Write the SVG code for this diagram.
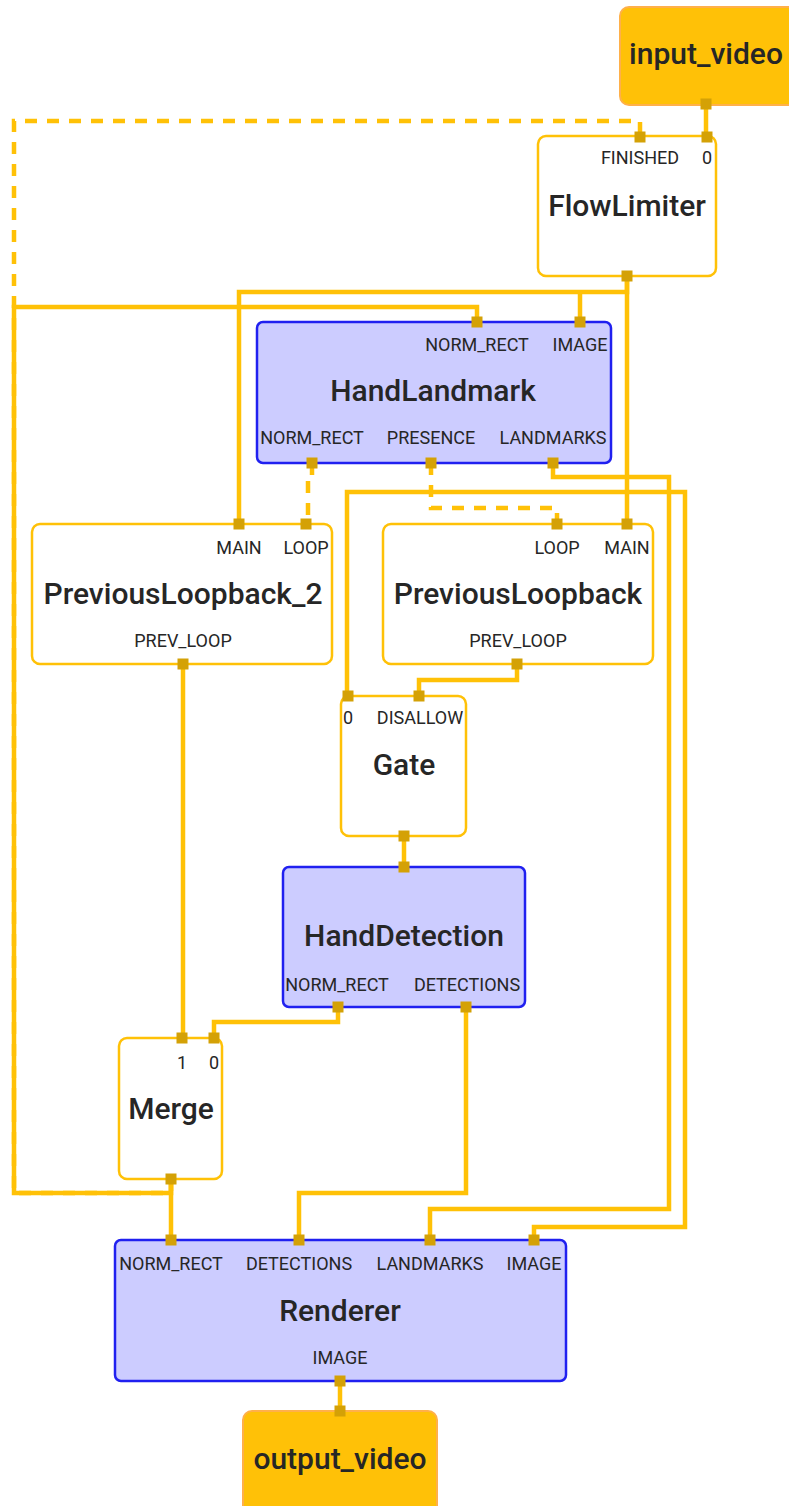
<svg xmlns="http://www.w3.org/2000/svg" width="789" height="1506" viewBox="0 0 789 1506">
<style>
.io rect{fill:#FFC107;stroke:#FFB04A;stroke-width:2}
.calc rect{fill:#FFFFFF;stroke:#FFC107;stroke-width:2.5}
.sub rect{fill:#CCCCFF;stroke:#2020F0;stroke-width:2.5}
.title{font-family:Roboto,"Liberation Sans",sans-serif;font-weight:500;font-size:30px;fill:#262626;text-anchor:middle;dominant-baseline:central}
.port{font-family:Roboto,"Liberation Sans",sans-serif;font-size:18px;fill:#262626;text-anchor:middle;dominant-baseline:central}
.edge{fill:none;stroke:#FFC107;stroke-width:4.5}
.dash{fill:none;stroke:#FFC107;stroke-width:4.5;stroke-dasharray:12,10}
.p{fill:#D4A106}
</style>
<defs>
<rect id="pt" x="-5.5" y="-5.5" width="11" height="11" class="p"/>
</defs>
<g id="connectors">
<path class="dash" d="M171,1179 V1193 H14 V121 H640 V136"/>
<path class="edge" d="M171,1179 V1193 H14 V307 H477 V322"/>
<path class="edge" d="M171,1179 V1240"/>
<path class="edge" d="M706,104 V136"/>
<path class="edge" d="M627,276 V292 H239 V523"/>
<path class="edge" d="M580,292 V322"/>
<path class="edge" d="M627,276 V523"/>
<path class="edge" d="M627,492 H685 V1227 H534 V1240"/>
<path class="edge" d="M627,492 H347 V696"/>
<path class="edge" d="M553,463 V477 H669 V1209 H430 V1240"/>
<path class="dash" d="M431,463 V508 H557 V523"/>
<path class="dash" d="M312,463 V478 H308 V523"/>
<path class="edge" d="M183,664 V1038"/>
<path class="edge" d="M517,664 V680 H419 V696"/>
<path class="edge" d="M404,836 V867"/>
<path class="edge" d="M338,1007 V1022 H214 V1038"/>
<path class="edge" d="M466,1007 V1193 H299 V1240"/>
<path class="edge" d="M340,1381 V1411"/>
</g>
<g id="input_video" class="io">
<rect x="620" y="7" width="180" height="98" rx="9"/>
<text class="title" x="706" y="53">input_video</text>
<use href="#pt" x="706" y="104"/>
</g>
<g id="FlowLimiter" class="calc">
<rect x="538" y="136" width="178" height="140" rx="8"/>
<text class="port" x="640" y="157">FINISHED</text>
<text class="port" x="707" y="157">0</text>
<text class="title" x="627" y="205">FlowLimiter</text>
<use href="#pt" x="640" y="137"/>
<use href="#pt" x="707" y="137"/>
<use href="#pt" x="627" y="276"/>
</g>
<g id="HandLandmark" class="sub">
<rect x="257" y="322" width="354" height="141" rx="6"/>
<text class="port" x="477" y="344">NORM_RECT</text>
<text class="port" x="580" y="344">IMAGE</text>
<text class="title" x="433" y="390">HandLandmark</text>
<text class="port" x="312" y="437">NORM_RECT</text>
<text class="port" x="431" y="437">PRESENCE</text>
<text class="port" x="553" y="437">LANDMARKS</text>
<use href="#pt" x="477" y="322"/>
<use href="#pt" x="580" y="322"/>
<use href="#pt" x="312" y="463"/>
<use href="#pt" x="431" y="463"/>
<use href="#pt" x="553" y="463"/>
</g>
<g id="PreviousLoopback_2" class="calc">
<rect x="32" y="524" width="300" height="140" rx="8"/>
<text class="port" x="239" y="547">MAIN</text>
<text class="port" x="306" y="547">LOOP</text>
<text class="title" x="183" y="593">PreviousLoopback_2</text>
<text class="port" x="183" y="640">PREV_LOOP</text>
<use href="#pt" x="239" y="524"/>
<use href="#pt" x="306" y="524"/>
<use href="#pt" x="183" y="664"/>
</g>
<g id="PreviousLoopback" class="calc">
<rect x="383" y="524" width="270" height="140" rx="8"/>
<text class="port" x="557" y="547">LOOP</text>
<text class="port" x="627" y="547">MAIN</text>
<text class="title" x="518" y="593">PreviousLoopback</text>
<text class="port" x="518" y="640">PREV_LOOP</text>
<use href="#pt" x="557" y="524"/>
<use href="#pt" x="627" y="524"/>
<use href="#pt" x="517" y="664"/>
</g>
<g id="Gate" class="calc">
<rect x="341" y="696" width="125" height="140" rx="8"/>
<text class="port" x="348" y="717">0</text>
<text class="port" x="420" y="717">DISALLOW</text>
<text class="title" x="404" y="764">Gate</text>
<use href="#pt" x="348" y="696"/>
<use href="#pt" x="419" y="696"/>
<use href="#pt" x="404" y="836"/>
</g>
<g id="HandDetection" class="sub">
<rect x="283" y="867" width="242" height="140" rx="6"/>
<text class="title" x="404" y="935">HandDetection</text>
<text class="port" x="337" y="984">NORM_RECT</text>
<text class="port" x="467" y="984">DETECTIONS</text>
<use href="#pt" x="404" y="867"/>
<use href="#pt" x="338" y="1007"/>
<use href="#pt" x="466" y="1007"/>
</g>
<g id="Merge" class="calc">
<rect x="119" y="1038" width="103" height="141" rx="8"/>
<text class="port" x="182" y="1062">1</text>
<text class="port" x="214" y="1062">0</text>
<text class="title" x="171" y="1108">Merge</text>
<use href="#pt" x="182" y="1038"/>
<use href="#pt" x="214" y="1038"/>
<use href="#pt" x="171" y="1179"/>
</g>
<g id="Renderer" class="sub">
<rect x="115" y="1240" width="451" height="141" rx="6"/>
<text class="port" x="171" y="1263">NORM_RECT</text>
<text class="port" x="299" y="1263">DETECTIONS</text>
<text class="port" x="430" y="1263">LANDMARKS</text>
<text class="port" x="534" y="1263">IMAGE</text>
<text class="title" x="340" y="1310">Renderer</text>
<text class="port" x="340" y="1357">IMAGE</text>
<use href="#pt" x="171" y="1240"/>
<use href="#pt" x="299" y="1240"/>
<use href="#pt" x="430" y="1240"/>
<use href="#pt" x="534" y="1240"/>
<use href="#pt" x="340" y="1381"/>
</g>
<g id="output_video" class="io">
<rect x="243" y="1411" width="194" height="110" rx="9"/>
<text class="title" x="340" y="1458">output_video</text>
<use href="#pt" x="340" y="1411"/>
</g>
</svg>
